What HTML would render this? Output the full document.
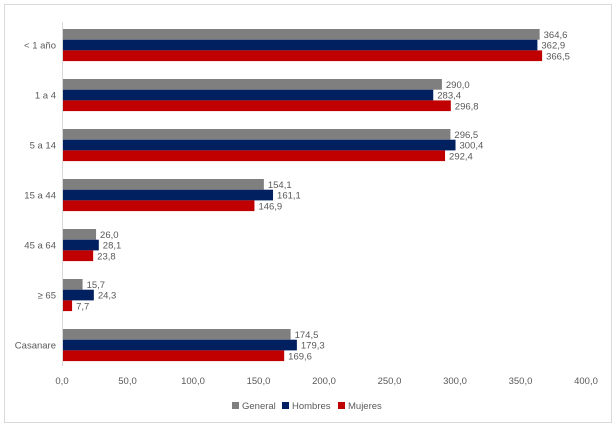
<!DOCTYPE html>
<html><head><meta charset="utf-8"><style>
body{margin:0;background:#fff;}
svg text{font-family:"Liberation Sans",sans-serif;font-size:9.5px;fill:#595959;}
</style></head><body>
<svg id="chart" width="616" height="426" xmlns="http://www.w3.org/2000/svg">
<rect x="4.5" y="4.5" width="607" height="418" fill="#fff" stroke="#d9d9d9"/>
<g id="plot"></g>
<g>
<rect x="232" y="402" width="7" height="7" fill="#7f7f7f"/>
<text x="242" y="409">General</text>
<rect x="282" y="402" width="7" height="7" fill="#002060"/>
<text x="292" y="409">Hombres</text>
<rect x="338" y="402" width="7" height="7" fill="#c00000"/>
<text x="348" y="409">Mujeres</text>
</g>
</svg>
<script>
const categories=["< 1 año","1 a 4","5 a 14","15 a 44","45 a 64","≥ 65","Casanare"];
const general=[364.6,290.0,296.5,154.1,26.0,15.7,174.5];
const hombres=[362.9,283.4,300.4,161.1,28.1,24.3,179.3];
const mujeres=[366.5,296.8,292.4,146.9,23.8,7.7,169.6];
const ticks=[0,50,100,150,200,250,300,350,400];
const series=[["general",general,"#7f7f7f"],["hombres",hombres,"#002060"],["mujeres",mujeres,"#c00000"]];
const NS="http://www.w3.org/2000/svg";
const g=document.getElementById('plot');
const x0=62,x1=586,xmax=400;
const xs=v=>x0+v/xmax*(x1-x0);
const top0=29,step=50,bh=10.7;
const fmt=v=>v.toFixed(1).replace('.',',');
function mk(t,a){const e=document.createElementNS(NS,t);for(const k in a)e.setAttribute(k,a[k]);g.appendChild(e);return e;}
const ax=mk('line',{x1:x0+0.5,x2:x0+0.5,y1:22,y2:366,stroke:'#d9d9d9'});


ticks.forEach(t=>{
 const e=mk('text',{x:xs(t),y:384,'text-anchor':'middle'});e.textContent=fmt(t);
 
 
});
categories.forEach((c,i)=>{
 const gt=top0+i*step;
 const l=mk('text',{x:56,y:gt+bh*1.5+3.5,'text-anchor':'end'});l.textContent=c;
 
 
 series.forEach((s,j)=>{
  const v=s[1][i],y=gt+j*bh;
  const r=mk('rect',{x:x0+1,y:y,width:xs(v)-x0-1,height:bh,fill:s[2]});
  
  
  const t=mk('text',{x:xs(v)+4,y:y+bh/2+3.5});t.textContent=fmt(v);
  
  
 });
});
</script>
</body></html>
